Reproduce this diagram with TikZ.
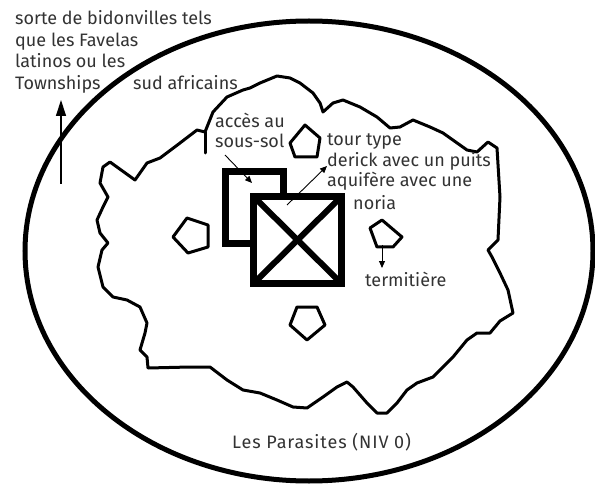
\documentclass[tikz,border=0pt]{standalone}
\usepackage{fontspec}
\setmainfont{Fira Sans}
\usetikzlibrary{arrows.meta}
\definecolor{txt}{HTML}{333333}
\tikzset{
  lbl/.style={text=txt, font=\fontsize{18}{20}\selectfont, inner sep=0pt, anchor=base west},
  outline/.style={line width=3pt, line join=round, line cap=round},
  pent/.style={line width=3pt, line join=round},
  thick box/.style={line width=7pt, line join=miter, fill=white},
  pointer/.style={line width=0.9pt, -{Triangle[length=7pt,width=6pt]}},
}
\begin{document}
\begin{tikzpicture}[x=1pt,y=-1pt]
\useasboundingbox (0,0) rectangle (595,484);
\fill[white] (0,0) rectangle (595,484);
% outer ellipse
\draw[line width=5pt] (309,251) ellipse [x radius=284, y radius=230];
% blob
\draw[outline] (110,162) -- (135,180) -- (147,163) -- (160,158) -- (180,143) -- (197,130) -- (205,132) -- (213,112) -- (227,97) -- (243,90) -- (250,88) -- (260,83) -- (277,76) -- (290,78) -- (300,83) -- (313,93) -- (320,103) -- (323,112) -- (333,103) -- (343,100) -- (360,107) -- (377,117) -- (390,128) -- (400,127) -- (413,120) -- (430,127) -- (443,133) -- (467,150) -- (477,152) -- (488,142) -- (497,148) -- (500,197) -- (498,240) -- (488,250) -- (492,257) -- (500,273) -- (508,290) -- (513,313) -- (500,321) -- (490,333) -- (477,333) -- (467,340) -- (453,357) -- (443,367) -- (433,377) -- (417,383) -- (407,390) -- (397,403) -- (387,413) -- (377,413) -- (367,403) -- (353,387) -- (347,382) -- (337,387) -- (323,397) -- (307,408) -- (293,407) -- (277,400) -- (260,393) -- (243,390) -- (227,380) -- (210,367) -- (190,367) -- (148,368) -- (147,357) -- (140,350) -- (145,333) -- (147,323) -- (140,307) -- (127,300) -- (113,297) -- (103,287) -- (98,267) -- (102,250) -- (108,243) -- (100,233) -- (97,220) -- (103,207) -- (108,197) -- (100,183) -- (103,167) -- cycle;
\draw[outline] (205,132) -- (205,153);
% pentagons
\draw[pent] (290,143) -- (305,125) -- (320,138) -- (317,157) -- (295,157) -- cycle;
\draw[pent] (173,237) -- (187,218) -- (208,225) -- (208,247) -- (188,253) -- cycle;
\draw[pent] (370,228) -- (382,220) -- (402,237) -- (393,247) -- (377,247) -- cycle;
\draw[pent] (290,325) -- (297,307) -- (317,307) -- (325,325) -- (307,340) -- cycle;
% squares
\draw[thick box] (225.5,171.5) rectangle (283.5,243.5);
\draw[thick box] (253.5,196.5) rectangle (341.5,283.5);
\draw[line width=6pt] (253.5,196.5) -- (341.5,283.5);
\draw[line width=6pt] (341.5,196.5) -- (253.5,283.5);
% texts
\node[lbl] (t1) at (15,25) {sorte de bidonvilles tels};
\node[lbl] (t2) at (15,47) {que les Favelas};
\node[lbl] (t3) at (15,68) {latinos ou les};
\node[lbl] (t4) at (15,90) {Townships};
\node[lbl] (t5) at (133,90) {sud africains};
\node[lbl] (a1) at (215,128) {accès au};
\node[lbl] (a2) at (215,148) {sous-sol};
\node[lbl] (d1) at (327,146) {tour type};
\node[lbl] (d2) at (327,167) {derick avec un puits};
\node[lbl] (d3) at (327,187) {aquifère avec une};
\node[lbl] (d4) at (353,210) {noria};
\node[lbl] (term) at (365,286) {termitière};
\node[lbl] (par) at (232,448) {\addfontfeatures{LetterSpace=5}Les Parasites (NIV 0)};
% arrows
\coordinate (up0) at (61,184);
\coordinate (up1) at (61,100);
\draw[line width=1.3pt, -{Triangle[length=16pt,width=10pt]}] (up0) -- (up1);
\coordinate (acc0) at (225,155);
\coordinate (acc1) at (252,183);
\draw[pointer] (acc0) -- (acc1);
\coordinate (tow0) at (287,205);
\coordinate (tow1) at (327,166);
\draw[pointer] (tow0) -- (tow1);
\coordinate (ter0) at (382,245);
\coordinate (ter1) at (382,268);
\draw[pointer] (ter0) -- (ter1);
\end{tikzpicture}
\end{document}
